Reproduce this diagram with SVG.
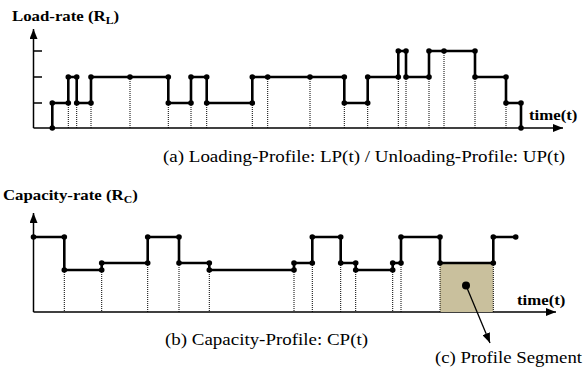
<svg xmlns="http://www.w3.org/2000/svg" width="583" height="375" viewBox="0 0 583 375">
  <style>
    .axis { stroke: #000; stroke-width: 1.5; fill: none; }
    .step { stroke: #000; stroke-width: 2.6; fill: none; stroke-linejoin: miter; }
    .drop { stroke: #000; stroke-width: 1; stroke-dasharray: 1 1; fill: none; }
    .dot { fill: #000; }
    .title { font-family: "Liberation Serif", "Times New Roman", serif; font-weight: bold; font-size: 15px; fill: #000; }
    .cap { font-family: "Liberation Serif", "Times New Roman", serif; font-size: 16px; fill: #000; }
  </style>
  <defs>
    <marker id="arrow" viewBox="0 0 10 8" refX="10" refY="4" markerWidth="10" markerHeight="8" markerUnits="userSpaceOnUse" orient="auto">
      <path d="M0,0 L10,4 L0,8 Z" fill="#000"/>
    </marker>
  </defs>

  <!-- Upper chart: load-rate profile -->
  <g id="load-axes">
    <line class="axis" x1="33.5" y1="128" x2="33.5" y2="29" marker-end="url(#arrow)"/>
    <line class="axis" x1="33.5" y1="128" x2="563" y2="128" marker-end="url(#arrow)"/>
    <path class="axis" d="M33.5,51 H42 M33.5,77 H42 M33.5,103 H42"/>
    <text class="title" transform="translate(12,21) scale(1.12,1)">Load-rate (R<tspan font-size="10.5" dy="3">L</tspan><tspan dy="-3">)</tspan></text>
    <text class="title" transform="translate(529,120) scale(1.12,1)">time(t)</text>
  </g>

  <g id="load-profile">
    <path class="drop" d="M68.3,103 V128 M76.7,103 V128 M91,103 V128 M130,77 V128 M168.3,103 V128 M191,103 V128 M206.7,103 V128 M252.3,103 V128 M267.7,77 V128 M310,77 V128 M344.3,103 V128 M367.7,103 V128 M398.3,77 V128 M406,77 V128 M429,77 V128 M444,51 V128 M475,77 V128 M506,103 V128"/>
    <path class="step" d="M52.3,128 V103 H68.3 V77 H76.7 V103 H91 V77 H168.3 V103 H191 V77 H206.7 V103 H252.3 V77 H344.3 V103 H367.7 V77 H398.3 V51 H406 V77 H429 V51 H475 V77 H506 V103 H521 V128"/>
    <g class="dot">
      <circle cx="52.3" cy="128" r="2.8"/><circle cx="52.3" cy="103" r="2.8"/>
      <circle cx="68.3" cy="103" r="2.8"/><circle cx="68.3" cy="77" r="2.8"/>
      <circle cx="76.7" cy="77" r="2.8"/><circle cx="76.7" cy="103" r="2.8"/>
      <circle cx="91" cy="103" r="2.8"/><circle cx="91" cy="77" r="2.8"/>
      <circle cx="130" cy="77" r="2.8"/>
      <circle cx="168.3" cy="77" r="2.8"/><circle cx="168.3" cy="103" r="2.8"/>
      <circle cx="191" cy="103" r="2.8"/><circle cx="191" cy="77" r="2.8"/>
      <circle cx="206.7" cy="77" r="2.8"/><circle cx="206.7" cy="103" r="2.8"/>
      <circle cx="252.3" cy="103" r="2.8"/><circle cx="252.3" cy="77" r="2.8"/>
      <circle cx="267.7" cy="77" r="2.8"/>
      <circle cx="310" cy="77" r="2.8"/>
      <circle cx="344.3" cy="77" r="2.8"/><circle cx="344.3" cy="103" r="2.8"/>
      <circle cx="367.7" cy="103" r="2.8"/><circle cx="367.7" cy="77" r="2.8"/>
      <circle cx="398.3" cy="77" r="2.8"/><circle cx="398.3" cy="51" r="2.8"/>
      <circle cx="406" cy="51" r="2.8"/><circle cx="406" cy="77" r="2.8"/>
      <circle cx="429" cy="77" r="2.8"/><circle cx="429" cy="51" r="2.8"/>
      <circle cx="444" cy="51" r="2.8"/>
      <circle cx="475" cy="51" r="2.8"/><circle cx="475" cy="77" r="2.8"/>
      <circle cx="506" cy="77" r="2.8"/><circle cx="506" cy="103" r="2.8"/>
      <circle cx="521" cy="103" r="2.8"/><circle cx="521" cy="128" r="2.8"/>
    </g>
  </g>

  <text id="caption-a" class="cap" x="163" y="162" textLength="402" lengthAdjust="spacingAndGlyphs">(a) Loading-Profile: LP(t) / Unloading-Profile: UP(t)</text>

  <!-- Lower chart: capacity-rate profile -->
  <g id="capacity-axes">
    <line class="axis" x1="33.5" y1="312" x2="33.5" y2="213" marker-end="url(#arrow)"/>
    <line class="axis" x1="33.5" y1="312" x2="556" y2="312" marker-end="url(#arrow)"/>
    <text class="title" transform="translate(3,200) scale(1.12,1)">Capacity-rate (R<tspan font-size="10.5" dy="3">C</tspan><tspan dy="-3">)</tspan></text>
    <text class="title" transform="translate(517,305) scale(1.12,1)">time(t)</text>
  </g>

  <g id="profile-segment">
    <rect x="440" y="263" width="53.3" height="49" fill="#c9c09d"/>
  </g>

  <g id="capacity-profile">
    <path class="drop" d="M64.3,270 V312 M101.7,270 V312 M147.7,263 V312 M179,263 V312 M209.3,270 V312 M294,270 V312 M312.3,263 V312 M340.7,263 V312 M355.7,270 V312 M392.7,270 V312 M401,263 V312 M440,263 V312 M493.3,263 V312"/>
    <path class="step" d="M33.5,237 H64.3 V270 H101.7 V263 H147.7 V237 H179 V263 H209.3 V270 H294 V263 H312.3 V237 H340.7 V263 H355.7 V270 H392.7 V263 H401 V237 H440 V263 H493.3 V237 H515.7"/>
    <g class="dot">
      <circle cx="33.5" cy="237" r="2.8"/>
      <circle cx="64.3" cy="237" r="2.8"/><circle cx="64.3" cy="270" r="2.8"/>
      <circle cx="101.7" cy="270" r="2.8"/><circle cx="101.7" cy="263" r="2.8"/>
      <circle cx="147.7" cy="263" r="2.8"/><circle cx="147.7" cy="237" r="2.8"/>
      <circle cx="179" cy="237" r="2.8"/><circle cx="179" cy="263" r="2.8"/>
      <circle cx="209.3" cy="263" r="2.8"/><circle cx="209.3" cy="270" r="2.8"/>
      <circle cx="294" cy="270" r="2.8"/><circle cx="294" cy="263" r="2.8"/>
      <circle cx="312.3" cy="263" r="2.8"/><circle cx="312.3" cy="237" r="2.8"/>
      <circle cx="340.7" cy="237" r="2.8"/><circle cx="340.7" cy="263" r="2.8"/>
      <circle cx="355.7" cy="263" r="2.8"/><circle cx="355.7" cy="270" r="2.8"/>
      <circle cx="392.7" cy="270" r="2.8"/><circle cx="392.7" cy="263" r="2.8"/>
      <circle cx="401" cy="263" r="2.8"/><circle cx="401" cy="237" r="2.8"/>
      <circle cx="440" cy="237" r="2.8"/><circle cx="440" cy="263" r="2.8"/>
      <circle cx="493.3" cy="263" r="2.8"/><circle cx="493.3" cy="237" r="2.8"/>
      <circle cx="515.7" cy="237" r="2.8"/>
    </g>
  </g>

  <g id="segment-pointer">
    <circle cx="466" cy="285.5" r="4" fill="#000"/>
    <line x1="466" y1="285.5" x2="490" y2="343" stroke="#000" stroke-width="1.3" marker-end="url(#arrow)"/>
  </g>

  <text id="caption-b" class="cap" x="165" y="345" textLength="203" lengthAdjust="spacingAndGlyphs">(b) Capacity-Profile: CP(t)</text>
  <text id="caption-c" class="cap" x="435" y="363" textLength="147" lengthAdjust="spacingAndGlyphs">(c) Profile Segment</text>
</svg>
